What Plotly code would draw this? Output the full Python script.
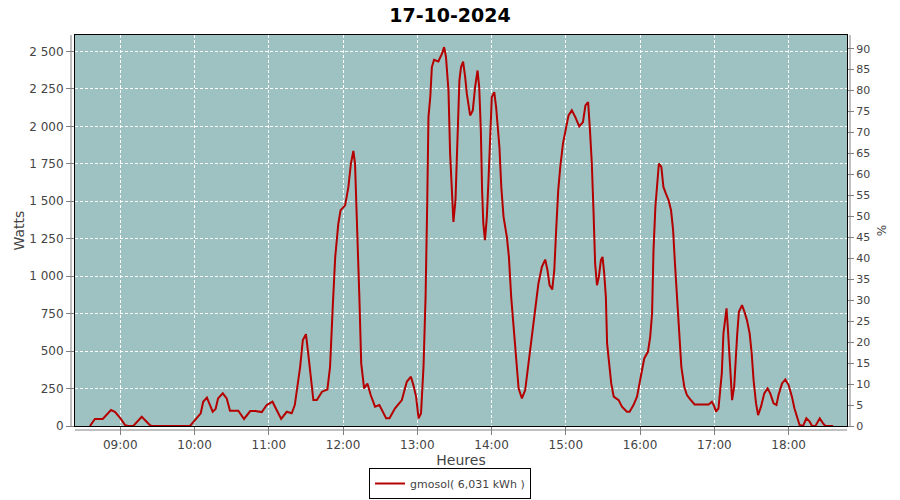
import plotly.graph_objects as go

DAY = "2024-10-17"
times = [
    "08:35:30", "08:39:30", "08:45:50", "08:52:30", "08:55:40", "09:00:00", "09:04:00", "09:06:30",
    "09:10:30", "09:17:20", "09:24:00", "09:25:30", "09:56:20", "10:00:20", "10:05:00", "10:07:00",
    "10:10:00", "10:12:30", "10:14:40", "10:17:00", "10:19:00", "10:22:50", "10:26:00", "10:28:40",
    "10:35:20", "10:40:00", "10:45:00", "10:49:00", "10:54:20", "10:58:20", "11:03:00", "11:06:20",
    "11:10:00", "11:14:30", "11:18:30", "11:21:00", "11:22:40", "11:25:20", "11:27:30", "11:30:00",
    "11:32:00", "11:34:00", "11:36:00", "11:38:50", "11:43:00", "11:47:20", "11:49:30", "11:51:40",
    "11:53:40", "11:56:10", "11:58:00", "12:01:40", "12:04:20", "12:06:20", "12:08:20", "12:09:40",
    "12:11:40", "12:13:10", "12:14:40", "12:17:00", "12:19:40", "12:22:20", "12:25:50", "12:29:20",
    "12:34:50", "12:37:30", "12:42:00", "12:47:30", "12:51:30", "12:54:50", "12:56:50", "12:59:00",
    "13:01:00", "13:03:00", "13:05:00", "13:06:40", "13:08:00", "13:09:00", "13:10:30", "13:11:45",
    "13:13:30", "13:17:00", "13:19:50", "13:21:40", "13:23:10", "13:25:10", "13:26:30", "13:28:00",
    "13:29:10", "13:30:50", "13:32:20", "13:34:00", "13:35:20", "13:37:00", "13:38:40", "13:40:00",
    "13:42:40", "13:44:50", "13:46:40", "13:48:40", "13:50:00", "13:51:20", "13:52:20", "13:53:20",
    "13:54:40", "13:56:10", "13:57:30", "13:58:50", "14:00:10", "14:02:10", "14:03:40", "14:05:00",
    "14:06:20", "14:07:50", "14:09:40", "14:12:20", "14:14:00", "14:15:50", "14:17:50", "14:20:00",
    "14:21:50", "14:24:30", "14:27:10", "14:29:50", "14:32:40", "14:35:10", "14:37:50", "14:40:40",
    "14:43:20", "14:45:10", "14:46:50", "14:49:00", "14:50:40", "14:52:10", "14:53:50", "14:55:30",
    "14:57:40", "14:59:30", "15:02:10", "15:04:50", "15:07:40", "15:10:50", "15:13:50", "15:15:50",
    "15:18:00", "15:19:30", "15:21:00", "15:22:20", "15:23:40", "15:25:10", "15:26:40", "15:28:20",
    "15:29:40", "15:31:00", "15:32:20", "15:33:20", "15:35:10", "15:36:40", "15:38:40", "15:42:40",
    "15:45:20", "15:49:20", "15:51:30", "15:54:40", "15:57:30", "15:59:40", "16:01:30", "16:03:20",
    "16:06:20", "16:08:10", "16:09:40", "16:10:50", "16:12:20", "16:13:40", "16:15:10", "16:17:10",
    "16:18:50", "16:20:50", "16:23:00", "16:25:00", "16:26:40", "16:28:10", "16:29:50", "16:31:20",
    "16:33:20", "16:35:40", "16:37:50", "16:40:30", "16:44:00", "16:55:20", "16:58:00", "16:59:50",
    "17:01:20", "17:03:20", "17:04:40", "17:06:00", "17:07:20", "17:08:40", "17:09:50", "17:10:50",
    "17:12:10", "17:13:20", "17:14:20", "17:16:00", "17:17:10", "17:18:30", "17:19:50", "17:22:20",
    "17:24:20", "17:26:20", "17:28:30", "17:30:10", "17:31:40", "17:33:40", "17:35:20", "17:37:40",
    "17:40:20", "17:43:00", "17:45:10", "17:47:50", "17:50:10", "17:51:50", "17:54:40", "17:57:20",
    "18:00:00", "18:02:40", "18:04:40", "18:06:50", "18:08:50", "18:11:40", "18:14:20", "18:17:00",
    "18:19:00", "18:21:40", "18:25:10", "18:27:50", "18:29:40", "18:36:00",
]
watts = [
    0, 47, 47, 107, 95, 53, 5, 0,
    0, 62, 5, 0, 0, 40, 85, 162,
    189, 140, 95, 113, 184, 218, 184, 102,
    102, 47, 100, 100, 93, 140, 162, 107,
    47, 95, 85, 140, 240, 395, 573, 613,
    473, 329, 173, 173, 229, 244, 395, 795,
    1129, 1351, 1440, 1473, 1596, 1751, 1836, 1751,
    1307, 862, 418, 251, 284, 207, 129, 140,
    51, 51, 118, 173, 295, 329, 273, 196,
    51, 85, 395, 862, 1484, 2062, 2200, 2396,
    2444, 2433, 2484, 2529, 2462, 2240, 1818, 1551,
    1362, 1507, 1907, 2307, 2396, 2433, 2329, 2218,
    2073, 2107, 2262, 2373, 2262, 1973, 1573, 1351,
    1240, 1396, 1640, 1973, 2196, 2229, 2129, 1996,
    1862, 1596, 1396, 1262, 1129, 862, 640, 418,
    251, 184, 240, 418, 618, 795, 951, 1062,
    1111, 1040, 940, 911, 1040, 1307, 1573, 1729,
    1884, 1962, 2073, 2107, 2062, 2000, 2029, 2140,
    2162, 1973, 1751, 1440, 1084, 940, 995, 1107,
    1129, 1018, 862, 551, 395, 284, 196, 173,
    129, 95, 95, 140, 196, 284, 373, 451,
    495, 595, 751, 1173, 1462, 1596, 1751, 1729,
    1596, 1551, 1507, 1440, 1307, 1084, 862, 595,
    395, 262, 207, 178, 144, 144, 162, 133,
    96, 118, 218, 351, 618, 718, 785, 662,
    462, 262, 173, 262, 462, 618, 762, 807,
    762, 707, 618, 484, 307, 151, 73, 129,
    218, 251, 218, 151, 140, 207, 284, 311,
    273, 196, 118, 62, 7, 0, 51, 29,
    0, 0, 51, 18, 0, 0,
]

title_text = "17-10-2024"
series_name = "gmosol( 6,031 kWh )"
x_title = "Heures"
y_title = "Watts"
y2_title = "%"

x_vals = [f"{DAY} {t}" for t in times]

BG = "#9EC2C1"
LINE = "#B40000"
GRID = "#FFFFFF"
TXT = "#444444"
AX = "#808080"
FONT = "DejaVu Sans"

fig = go.Figure()
fig.add_trace(go.Scatter(
    x=x_vals, y=watts, mode="lines", name=series_name,
    line=dict(color=LINE, width=2), yaxis="y",
))
fig.add_trace(go.Scatter(x=[], y=[], yaxis="y2", showlegend=False, hoverinfo="skip"))

fig.update_layout(
    width=900, height=500,
    margin=dict(l=75, r=53, t=35, b=74, autoexpand=False),
    paper_bgcolor="white", plot_bgcolor=BG,
    separators=", ",
    font=dict(family=FONT, size=11, color=TXT),
    title=dict(text=f"<b>{title_text}</b>", x=0.5, xref="container", xanchor="center",
               y=1 - 15 / 500, yref="container", yanchor="middle",
               font=dict(family=FONT, size=19, color="#000000")),
    xaxis=dict(
        type="date",
        range=[f"{DAY} 08:23:25", f"{DAY} 18:47:10"],
        dtick=3600000, tick0=f"{DAY} 09:00:00", tickformat="%H:%M",
        showgrid=True, gridcolor=GRID, griddash="3px,2px", gridwidth=1,
        showline=True, linecolor="#000000", linewidth=1, mirror=True,
        ticks="outside", ticklen=8, tickcolor=AX,
        tickfont=dict(size=12, color=TXT),
        title=dict(text=x_title, standoff=3, font=dict(size=14, color=TXT)),
        zeroline=False,
    ),
    yaxis=dict(
        range=[0, 2610], dtick=250, tick0=0, tickformat=",d",
        showgrid=True, gridcolor=GRID, griddash="3px,2px", gridwidth=1,
        showline=True, linecolor="#000000", linewidth=1, mirror=True,
        ticks="outside", ticklen=8, tickcolor=AX,
        tickfont=dict(size=12, color=TXT),
        title=dict(text=y_title, standoff=1, font=dict(size=14, color=TXT)),
        zeroline=False,
    ),
    yaxis2=dict(
        overlaying="y", side="right", range=[0, 93.26], dtick=5, tick0=0,
        showgrid=False, zeroline=False, showline=False,
        ticks="outside", ticklen=6, tickcolor=AX,
        tickfont=dict(size=11, color=TXT),
        title=dict(text=y2_title, standoff=8, font=dict(size=12, color=TXT)),
    ),
    legend=dict(
        orientation="h", x=0.5, xref="container", xanchor="center",
        y=1 / 500, yref="container", yanchor="bottom",
        bordercolor="#000000", borderwidth=1, bgcolor="white",
        font=dict(size=11, color=TXT), itemwidth=30,
    ),
    showlegend=True,
    shapes=[
        dict(type="line", xref="paper", yref="paper", x0=-4 / 772, x1=-4 / 772, y0=0, y1=1,
             line=dict(color=AX, width=1)),
        dict(type="line", xref="paper", yref="paper", x0=0, x1=1, y0=-4 / 391, y1=-4 / 391,
             line=dict(color=AX, width=1)),
        dict(type="line", xref="paper", yref="paper", x0=1 + 3 / 772, x1=1 + 3 / 772, y0=0, y1=1,
             line=dict(color=AX, width=1)),
    ],
)

fig.write_html(
    "out.html",
    config={"displayModeBar": False},
    post_script="document.body.style.margin='0';document.body.style.overflow='hidden';",
)
